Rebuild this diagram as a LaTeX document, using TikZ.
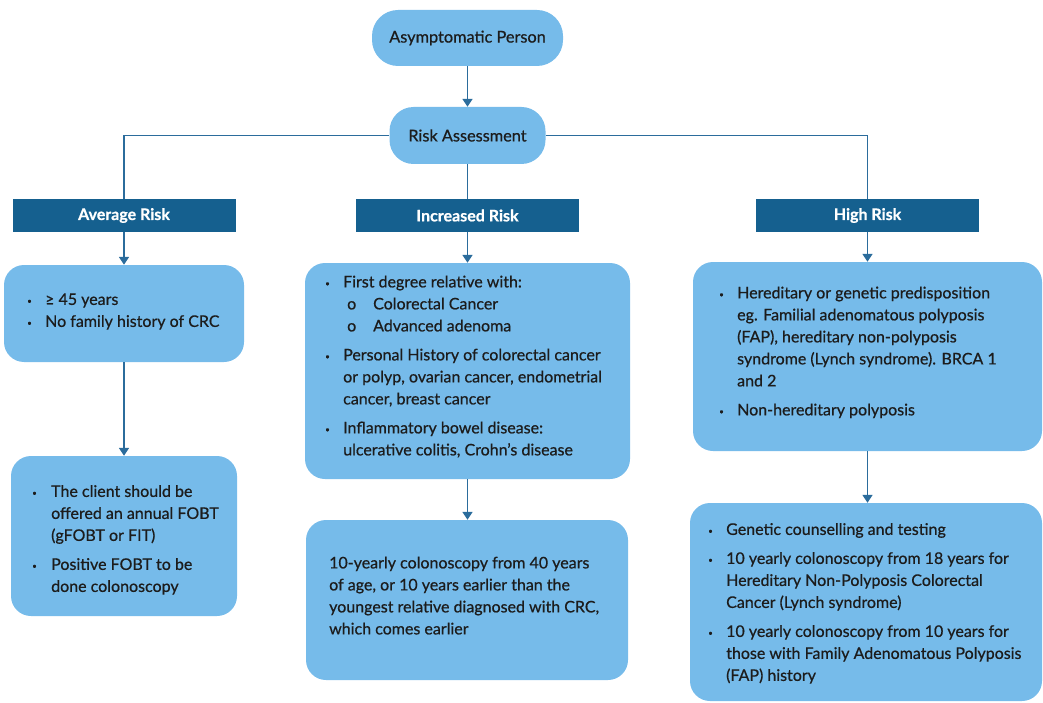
\documentclass[tikz,border=0pt]{standalone}
\usepackage{fontspec}
\setmainfont{Lato}[FakeBold=0.6]
\usepackage{array}
\usetikzlibrary{arrows.meta}

\definecolor{boxblue}{HTML}{76BBEA}
\definecolor{hdrblue}{HTML}{15608F}
\definecolor{linkblue}{HTML}{2B6C9C}
\definecolor{ink}{HTML}{1C1C1C}

% bullet column and sub-item marker used inside the text blocks
\newcommand\bdot{\raisebox{1.2pt}{\fontsize{8}{8}\selectfont •}}
\newcommand\bcol{\makebox[18pt][l]{\bdot}}
\newcommand\subo{\hspace{4pt}\makebox[26pt][l]{o}}

\tikzset{
  pill/.style={fill=boxblue, draw=none, rounded corners=26pt, text=ink,
    font=\fontsize{16.3}{18}\selectfont, inner sep=0pt},
  infobox/.style={fill=boxblue, draw=none, rounded corners=20pt, inner sep=0pt},
  header/.style={fill=hdrblue, draw=none, text=white, inner sep=0pt,
    minimum width=223pt, minimum height=33pt,
    font=\fontsize{16}{18}\selectfont\bfseries},
  txt/.style={inner sep=0pt, anchor=west, text=ink,
    font=\fontsize{16}{22}\selectfont},
  link/.style={draw=linkblue, line width=1.6pt},
  arr/.style={link, -{Triangle[width=10pt,length=8pt]}}
}

\begin{document}
\begin{tikzpicture}[x=1pt,y=-1pt]
\useasboundingbox (0,0) rectangle (1043,703);

% top of the chart
\node[pill, minimum width=191pt, minimum height=56pt] (person) at (467.5,38) {Asymptomatic Person};
\node[pill, minimum width=156pt, minimum height=57pt, rounded corners=24pt] (assess) at (467.5,135.5) {Risk Assessment};

% risk category headers
\node[header] (avg)  at (124,215.5) {Average Risk};
\node[header] (inc)  at (467.5,215.5) {Increased Risk};
\node[header] (high) at (867.5,215.5) {High Risk};

% content boxes
\node[infobox, minimum width=240pt, minimum height=97pt]  (avgA)  at (124,313.5) {};
\node[infobox, minimum width=226pt, minimum height=160pt] (avgB)  at (124,536) {};
\node[infobox, minimum width=325pt, minimum height=216pt] (incA)  at (467.5,371) {};
\node[infobox, minimum width=322pt, minimum height=160pt] (incB)  at (467,600) {};
\node[infobox, minimum width=349pt, minimum height=189pt] (highA) at (867.5,356.5) {};
\node[infobox, minimum width=352pt, minimum height=198pt] (highB) at (866,602) {};

% box texts
\node[txt] (avgAt) at (27,311.5) {\begin{tabular}{@{}l@{}l@{}}
\bcol & ≥ 45 years\\
\bcol & No family history of CRC
\end{tabular}};

\node[txt] (avgBt) at (32,540) {\begin{tabular}{@{}l@{}l@{}}
\makebox[19pt][l]{\bdot} & The client should be\\
 & offered an annual FOBT\\
 & (gFOBT or FIT)\\[7pt]
\makebox[19pt][l]{\bdot} & Positive FOBT to be\\
 & done colonoscopy
\end{tabular}};

\node[txt] (incAt) at (325,367) {\begin{tabular}{@{}l@{}l@{}}
\bcol & First degree relative with:\\
 & \subo Colorectal Cancer\\
 & \subo Advanced adenoma\\[7pt]
\bcol & Personal History of colorectal cancer\\
 & or polyp, ovarian cancer, endometrial\\
 & cancer, breast cancer\\[7pt]
\bcol & Inflammatory bowel disease:\\
 & ulcerative colitis, Crohn’s disease
\end{tabular}};

\node[txt] (incBt) at (329,597) {\begin{tabular}{@{}l@{}}
10-yearly colonoscopy from 40 years\\
of age, or 10 years earlier than the\\
youngest relative diagnosed with CRC,\\
which comes earlier
\end{tabular}};

\node[txt] (highAt) at (719,352.5) {\begin{tabular}{@{}l@{}l@{}}
\bcol & Hereditary or genetic predisposition\\
 & eg. Familial adenomatous polyposis\\
 & (FAP), hereditary non-polyposis\\
 & syndrome (Lynch syndrome). BRCA 1\\
 & and 2\\[7pt]
\bcol & Non-hereditary polyposis
\end{tabular}};

\node[txt] (highBt) at (708,603.5) {\begin{tabular}{@{}l@{}l@{}}
\bcol & Genetic counselling and testing\\[7pt]
\bcol & 10 yearly colonoscopy from 18 years for\\
 & Hereditary Non-Polyposis Colorectal\\
 & Cancer (Lynch syndrome)\\[7pt]
\bcol & 10 yearly colonoscopy from 10 years for\\
 & those with Family Adenomatous Polyposis\\
 & (FAP) history
\end{tabular}};

% connectors
\draw[arr] (person) -- (assess);
\draw[link] (assess.west) -| (avg.north);
\draw[link] (assess.east) -| (high.north);
\draw[link] (assess.south) -- (inc.north);
\draw[arr] (avg.south) -- (avg.south |- avgA.north);
\draw[arr] (inc.south) -- (inc.south |- incA.north);
\draw[arr] (high.south) -- (high.south |- highA.north);
\draw[arr] (avgA.south) -- (avgA.south |- avgB.north);
\draw[arr] (incA.south) -- (incA.south |- incB.north);
\draw[arr] (highA.south) -- (highA.south |- highB.north);
\end{tikzpicture}
\end{document}
